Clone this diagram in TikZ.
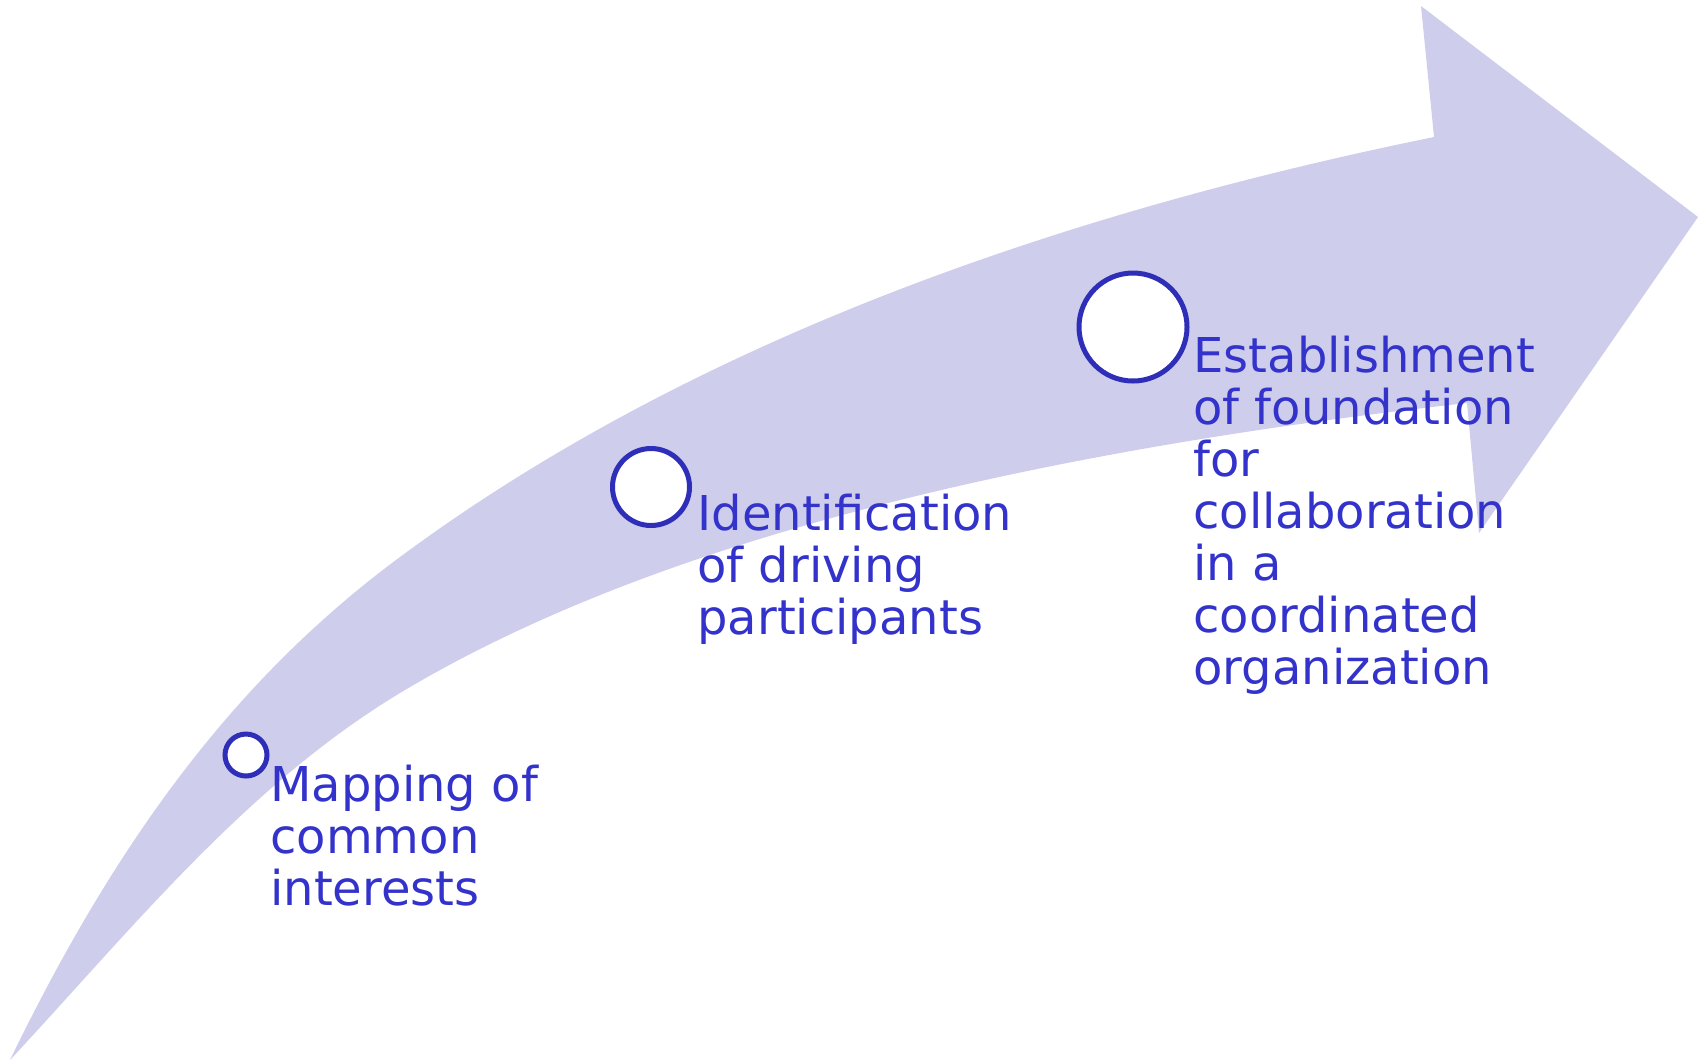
\documentclass[tikz,border=0pt]{standalone}
\usepackage{fontspec}
\setmainfont{DejaVu Sans}
\usepackage{tikz}
\usetikzlibrary{positioning}

\definecolor{arrowfill}{RGB}{206,206,236}
\definecolor{ringblue}{RGB}{46,46,184}
\definecolor{textblue}{RGB}{51,51,204}

\tikzset{
  ring/.style={circle, draw=ringblue, fill=white, line width=2.5pt, inner sep=0pt},
  steptext/.style={align=left, inner sep=0pt, text=textblue,
    font=\fontsize{24}{26}\selectfont}
}

\begin{document}
\begin{tikzpicture}[x=0.5pt,y=-0.5pt]
    \useasboundingbox (0,0) rectangle (1701,1062);

    % curved arrow
    \fill[arrowfill] (10,1060) .. controls (119,835) and (239,676) .. (400,557)
      .. controls (697,337) and (1071,211) .. (1434,137)
      -- (1421,6) -- (1698,217) -- (1479,533) -- (1467,403)
      .. controls (1099,444) and (683,523) .. (400,693)
      .. controls (246,786) and (132,929) .. (10,1060) -- cycle;

    % steps
    \node[ring, minimum size=21pt] (c1) at (246,755) {};
    \node[ring, minimum size=38.5pt] (c2) at (651,487) {};
    \node[ring, minimum size=54pt] (c3) at (1133,327) {};

    % labels (base = last line)
    \node[steptext, anchor=base west] (t1) at (270,905) {Mapping of\\common\\interests};
    \node[steptext, anchor=base west] (t2) at (697,634) {Identification\\of driving\\participants};
    \node[steptext, anchor=base west] (t3) at (1193,684) {Establishment\\of foundation\\for\\collaboration\\in a\\coordinated\\organization};
\end{tikzpicture}
\end{document}
